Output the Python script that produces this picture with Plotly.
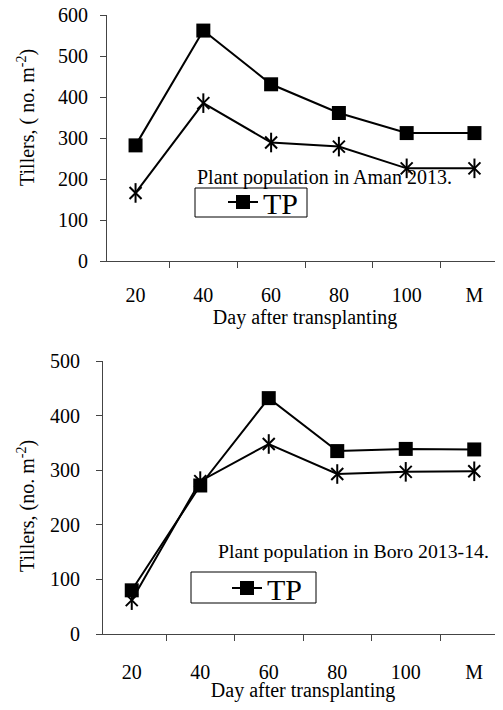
import plotly.graph_objects as go

days = ["20", "40", "60", "80", "100", "M"]

aman_tp = [282, 562, 431, 361, 312, 312]
aman_star = [166, 385, 289, 279, 226, 226]

boro_tp = [80, 272, 432, 335, 339, 338]
boro_star = [62, 280, 348, 293, 297, 298]

FONT = "Liberation Serif"
# the page body has an 8px margin, so the figure is drawn 8px smaller
# and all reference pixel positions are shifted by that offset
OFF = 8
W, H = 503 - OFF, 710 - 2 * OFF

def py(p):
    return (H - (p - OFF)) / H

def px_(p):
    return (p - OFF) / W

fig = go.Figure()

def add_series(xa, ya, tp, star, legend):
    fig.add_trace(go.Scatter(
        x=days, y=tp, mode="lines+markers", name="TP",
        line=dict(color="black", width=2),
        marker=dict(symbol="square", size=14, color="black"),
        xaxis=xa, yaxis=ya, legend=legend, showlegend=True))
    fig.add_trace(go.Scatter(
        x=days, y=star, mode="lines+markers", name="star",
        line=dict(color="black", width=2),
        marker=dict(symbol="x-thin-open", size=12, color="black",
                    line=dict(color="black", width=2)),
        xaxis=xa, yaxis=ya, showlegend=False))
    fig.add_trace(go.Scatter(
        x=days, y=star, mode="markers", name="star2",
        marker=dict(symbol="line-ns-open", size=14, color="black",
                    line=dict(color="black", width=2)),
        xaxis=xa, yaxis=ya, showlegend=False))

add_series("x", "y", aman_tp, aman_star, "legend")
add_series("x2", "y2", boro_tp, boro_star, "legend2")

axcol = "#444"

def xax(domain, standoff, size, tstand):
    return dict(domain=domain, type="category", tickson="boundaries",
                ticks="outside", ticklen=6, tickcolor=axcol, tickwidth=1,
                showline=True, linecolor=axcol, linewidth=1, showgrid=False,
                zeroline=False, ticklabelstandoff=standoff, automargin=False,
                ticklabeloverflow="allow",
                tickfont=dict(family=FONT, size=size, color="black"),
                title=dict(text="Day after transplanting", standoff=tstand,
                           font=dict(family=FONT, size=size, color="black")),
                fixedrange=True)

def yax(domain, rng, dtick, standoff, size):
    return dict(domain=domain, range=rng, dtick=dtick, ticks="outside", ticklen=6,
                tickcolor=axcol, tickwidth=1, showline=True, linecolor=axcol,
                linewidth=1, showgrid=False, zeroline=False, automargin=False,
                ticklabelstandoff=standoff, ticklabeloverflow="allow",
                tickfont=dict(family=FONT, size=size, color="black"),
                fixedrange=True)

leg_font = dict(family=FONT, size=30, color="black")

fig.update_layout(
    width=W, height=H, autosize=False,
    margin=dict(l=0, r=0, t=0, b=0, pad=0, autoexpand=False),
    paper_bgcolor="white", plot_bgcolor="white",
    xaxis=dict(xax([px_(107), 1.0], 16, 20, 0), anchor="y"),
    yaxis=dict(yax([py(261), py(15)], [0, 600], 100, 8, 20), anchor="x"),
    xaxis2=dict(xax([px_(103), 1.0], 20, 20, 2), anchor="y2"),
    yaxis2=dict(yax([py(634), py(361)], [0, 500], 100, 12, 20), anchor="x2"),
    legend=dict(x=px_(223), y=py(202), xanchor="left", yanchor="middle",
                borderwidth=0, bgcolor="rgba(0,0,0,0)", font=leg_font),
    legend2=dict(x=px_(227), y=py(588), xanchor="left", yanchor="middle",
                 borderwidth=0, bgcolor="rgba(0,0,0,0)", font=leg_font),
    showlegend=True,
)

# legend frames
fig.add_shape(type="rect", xref="paper", yref="paper",
              x0=px_(195), x1=px_(307), y0=py(217), y1=py(188),
              line=dict(color="black", width=1), fillcolor="white", layer="above")
fig.add_shape(type="rect", xref="paper", yref="paper",
              x0=px_(191), x1=px_(316), y0=py(603), y1=py(572),
              line=dict(color="black", width=1), fillcolor="white", layer="above")

fig.add_annotation(text="Tillers, ( no. m<sup>-2</sup>)", textangle=-90,
                   x=px_(26), y=py(118), xref="paper", yref="paper",
                   xanchor="center", yanchor="middle",
                   showarrow=False, font=dict(family=FONT, size=20, color="black"))
fig.add_annotation(text="Tillers, (no. m<sup>-2</sup>)", textangle=-90,
                   x=px_(27), y=py(506), xref="paper", yref="paper",
                   xanchor="center", yanchor="middle",
                   showarrow=False, font=dict(family=FONT, size=20, color="black"))
fig.add_annotation(text="Plant population in Aman 2013.",
                   x=px_(195), y=py(178), xref="paper", yref="paper",
                   xanchor="left", yanchor="middle",
                   showarrow=False, font=dict(family=FONT, size=20, color="black"))
fig.add_annotation(text="Plant population in Boro 2013-14.",
                   x=px_(216), y=py(551), xref="paper", yref="paper",
                   xanchor="left", yanchor="middle",
                   showarrow=False, font=dict(family=FONT, size=19.8, color="black"))

fig.write_html("out.html")
